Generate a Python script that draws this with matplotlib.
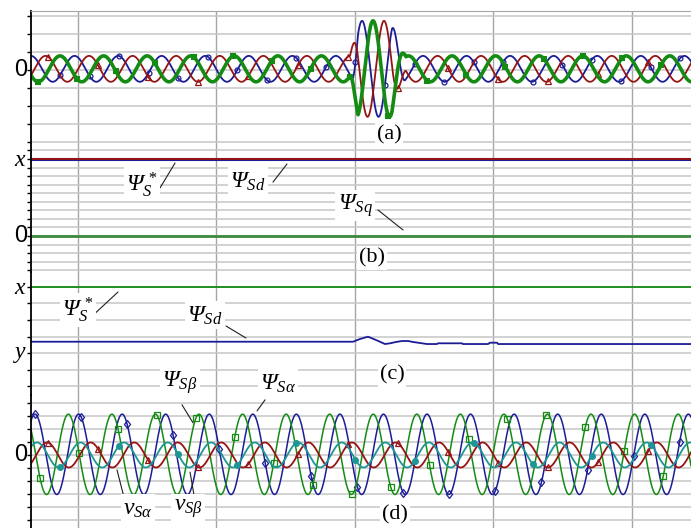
import numpy as np
import matplotlib.pyplot as plt

plt.rcParams['mathtext.fontset'] = 'custom'
plt.rcParams['mathtext.rm'] = 'Liberation Serif:italic'
plt.rcParams['mathtext.it'] = 'Liberation Serif:italic'
plt.rcParams['mathtext.bf'] = 'Liberation Serif:bold'

# ---- values ----
t_lim = (0.0661, 0.5426)            # s, left/right edge of the screen
t_grid = [0.1, 0.2, 0.3, 0.4, 0.5]
f_s = 31.8                          # supply frequency, Hz

# (a) stator currents, unit = grid step / 1.5
i_amp = 1.08
i_offset = 0.1
i_peak_t = 0.0661                   # first peak of the blue phase
i_lag = [0, 1, 2]                   # blue, red, green (x 120 deg)
burst_f = 42.0
burst_amp = 4.0
burst_peak_t = 0.3051
burst_lag = [0, 2, 1]               # blue, red, green during the fault
burst_t = [0.2964, 0.3022, 0.3267, 0.3368]
burst_w = [0.0, 1.0, 1.0, 0.0]

# (b) flux in the rotating frame
psi_ref_b = 1.0
psi_sd_b = 1.0
psi_sq_b = 0.0

# (c) flux reference and d component
psi_ref_c = 1.0
psi_sd_t = [0.0661, 0.2986, 0.3036, 0.3094, 0.3152, 0.3217, 0.3253, 0.3296,
            0.3340, 0.3383, 0.3419, 0.3455, 0.3520, 0.3592, 0.3599, 0.3773,
            0.3780, 0.3961, 0.3975, 0.4026, 0.4033, 0.5426]
psi_sd_c = [0.171, 0.171, 0.212, 0.247, 0.197, 0.136, 0.147, 0.167,
            0.182, 0.182, 0.167, 0.156, 0.136, 0.136, 0.147, 0.147,
            0.136, 0.136, 0.156, 0.156, 0.136, 0.136]

# (d) stationary-frame flux and voltage
psi_amp = 3.08
psi_offset = 0.05
psi_a_peak_t = 0.0690
psi_b_peak_t = 0.0616
v_amp = 0.96
v_a_peak_t = 0.0777
v_b_peak_t = 0.0704

BLUE = '#1c1c96'
RED = '#961414'
GREEN = '#148c14'
TEAL = '#1e9696'
GRID_H = '#c6c6c6'
GRID_V = '#a6a6a6'

n = 4000
t = np.linspace(t_lim[0], t_lim[1], n)
w = np.interp(t, burst_t, burst_w)
currents = []
for k, kb in zip(i_lag, burst_lag):
    steady = i_offset + i_amp * np.cos(2 * np.pi * f_s * (t - i_peak_t) - k * 2 * np.pi / 3)
    fault = i_offset + burst_amp * np.cos(2 * np.pi * burst_f * (t - burst_peak_t) - kb * 2 * np.pi / 3)
    currents.append((1 - w) * steady + w * fault)

psi_a = psi_offset + psi_amp * np.cos(2 * np.pi * f_s * (t - psi_a_peak_t))
psi_b = psi_offset + psi_amp * np.cos(2 * np.pi * f_s * (t - psi_b_peak_t))
v_a = v_amp * np.cos(2 * np.pi * f_s * (t - v_a_peak_t))
v_b = v_amp * np.cos(2 * np.pi * f_s * (t - v_b_peak_t))

fig = plt.figure(figsize=(6.91, 5.28), dpi=100)
H = 528.0
L = 31 / 691.0


def make_axes(top_px, bot_px, ylim, yticks, z):
    ax = fig.add_axes([L, 1 - bot_px / H, 1 - L, (bot_px - top_px) / H])
    ax.set_facecolor('none')
    ax.set_zorder(z)
    ax.set_xlim(*t_lim)
    ax.set_ylim(*ylim)
    ax.set_xticks(t_grid)
    ax.set_yticks(yticks)
    ax.set_xticklabels([])
    ax.set_yticklabels([])
    ax.tick_params(axis='x', length=0)
    ax.tick_params(axis='y', length=3, width=1, direction='out')
    ax.yaxis.grid(True, color=GRID_H, lw=1.1)
    ax.xaxis.grid(True, color=GRID_V, lw=1.0)
    ax.set_axisbelow(True)
    for s in ['top', 'right', 'bottom']:
        ax.spines[s].set_visible(False)
    ax.spines['left'].set_linewidth(1.3)
    return ax


ax_a = make_axes(11, 143, (-6.08, 4.92), np.arange(-6, 5, 1.5), 2)
ax_b = make_axes(143, 272, (-0.468, 1.208), np.arange(-4, 11) / 9, 1)
ax_c = make_axes(272, 395, (-0.636, 1.227), np.arange(-0.5, 1.01, 0.25), 1)
ax_d = make_axes(395, 528, (-5.6, 4.6), np.arange(-5, 5), 2)
ax_a.spines['top'].set_visible(True)
ax_a.spines['top'].set_color(GRID_V)

# (a)
ax_a.plot(t, currents[0], color=BLUE, lw=1.3, marker='o', ms=3.5, mfc='none',
          mew=0.9, markevery=(176, 179))
ax_a.plot(t, currents[1], color=RED, lw=1.3, marker='^', ms=4.5, mfc='none',
          mew=0.9, markevery=(103, 303))
ax_a.plot(t, currents[2], color=GREEN, lw=2.6, marker='s', ms=3.5, mfc='none',
          mew=1.5, markevery=(42, 236))

# (b)
ax_b.axhline(psi_sd_b, color=BLUE, lw=2.2)
ax_b.axhline(psi_ref_b, color=RED, lw=1.4)
ax_b.axhline(psi_sq_b, color='#3c8a3c', lw=2.0)

# (c)
ax_c.axhline(psi_ref_c, color=GREEN, lw=1.3)
ax_c.plot(psi_sd_t, psi_sd_c, color=BLUE, lw=1.3)

# (d)
ax_d.plot(t, psi_a, color=BLUE, lw=1.1, marker='d', ms=4.5, mfc='none',
          mew=0.9, markevery=(24, 279))
ax_d.plot(t, psi_b, color=GREEN, lw=1.1, marker='s', ms=4.5, mfc='none',
          mew=0.9, markevery=(55, 236))
ax_d.plot(t, v_a, color=RED, lw=1.3, marker='^', ms=5, mfc='none',
          mew=0.9, markevery=(103, 303))
ax_d.plot(t, v_b, color=TEAL, lw=1.3, marker='o', ms=4, markevery=(176, 358))

box = dict(facecolor='white', edgecolor='none', pad=1.5)


def label(ax, text, xy, size=17, end=None, start=None, family=None):
    if end is not None:
        ax.annotate('', xy=end, xytext=start,
                    arrowprops=dict(arrowstyle='-', lw=0.8, color='#202020',
                                    shrinkA=0, shrinkB=0),
                    annotation_clip=False)
    ax.text(xy[0], xy[1], text, fontsize=size, ha='center', va='center',
            bbox=box, family=family, clip_on=False, zorder=10)


label(ax_a, '(a)', (0.3246, -5.42), 16, family='Liberation Serif')

label(ax_b, r'$\Psi_{S}^{\,*}$', (0.1462, 0.675),
      start=(0.1592, 0.623), end=(0.1701, 0.948))
label(ax_b, r'$\Psi_{Sd}$', (0.2228, 0.714),
      start=(0.2408, 0.70), end=(0.2509, 0.935))
label(ax_b, r'$\Psi_{Sq}$', (0.3000, 0.40),
      start=(0.3166, 0.338), end=(0.3347, 0.078))
label(ax_b, '(b)', (0.3123, -0.286), 16, family='Liberation Serif')

label(ax_c, r'$\Psi_{S}^{\,*}$', (0.1000, 0.652),
      start=(0.1087, 0.53), end=(0.1289, 0.924))
label(ax_c, r'$\Psi_{Sd}$', (0.1917, 0.576),
      start=(0.2069, 0.409), end=(0.2213, 0.227))
label(ax_c, '(c)', (0.3268, -0.333), 16, family='Liberation Serif')

label(ax_d, r'$\Psi_{S\beta}$', (0.1737, 5.54),
      start=(0.1751, 3.85), end=(0.1831, 2.46))
label(ax_d, r'$\Psi_{S\alpha}$', (0.2444, 5.54),
      start=(0.2351, 4.23), end=(0.2293, 3.38))
label(ax_d, r'$v_{S\alpha}$', (0.1434, -4.08),
      start=(0.1332, -3.23), end=(0.1282, -1.15))
label(ax_d, r'$v_{S\beta}$', (0.1795, -4.08),
      start=(0.1838, -3.08), end=(0.1809, -1.31))
label(ax_d, '(d)', (0.3289, -4.6), 16, family='Liberation Serif')

# left-side level marks
for ax, yv, txt in [(ax_a, 0.0, '0'), (ax_b, psi_ref_b, r'$x$'),
                    (ax_b, 0.0, '0'), (ax_c, psi_ref_c, r'$x$'),
                    (ax_c, 0.0, r'$y$'), (ax_d, 0.0, '0')]:
    fam = 'Liberation Sans' if txt == '0' else None
    ax.text(-0.006, yv, txt, transform=ax.get_yaxis_transform(),
            ha='right', va='center', fontsize=17, family=fam, clip_on=False)

fig.savefig('out.png', dpi=100)
